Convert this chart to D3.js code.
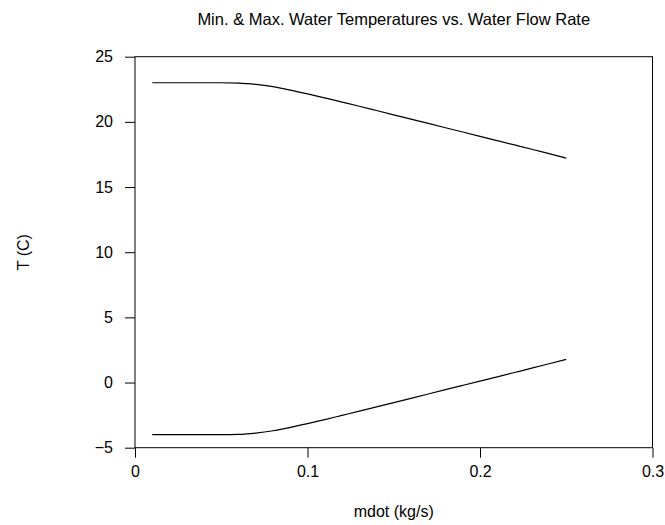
<!DOCTYPE html>
<html>
<head>
<meta charset="utf-8">
<script src="https://cdn.jsdelivr.net/npm/d3@7"></script>
<style>
  body { margin: 0; background: #fff; }
  text { font-family: "Liberation Sans", Arial, sans-serif; fill: #000; }
</style>
</head>
<body>
<div id="chart"></div>
<script>
// flow rate (kg/s)
const mdot = [0.01, 0.02, 0.03, 0.04, 0.05, 0.06, 0.07, 0.08, 0.09, 0.10, 0.11, 0.12, 0.13,
  0.14, 0.15, 0.16, 0.17, 0.18, 0.19, 0.20, 0.21, 0.22, 0.23, 0.24, 0.25];
// max water temperature (C)
const tMax = [23.0, 23.0, 23.0, 23.0, 23.0, 22.98, 22.88, 22.7, 22.44, 22.15, 21.84, 21.52, 21.2,
  20.87, 20.54, 20.21, 19.88, 19.55, 19.22, 18.89, 18.56, 18.23, 17.9, 17.56, 17.22];
// min water temperature (C)
const tMin = [-4.0, -4.0, -4.0, -4.0, -4.0, -3.98, -3.88, -3.7, -3.44, -3.15, -2.84, -2.52, -2.2,
  -1.87, -1.54, -1.21, -0.88, -0.55, -0.22, 0.11, 0.44, 0.77, 1.1, 1.44, 1.78];

const xTicks = [0, 0.1, 0.2, 0.3];
const yTicks = [-5, 0, 5, 10, 15, 20, 25];

const width = 665, height = 525;
const plot = {left: 135, right: 652.5, top: 56.7, bottom: 447.7};

const svg = d3.select("#chart")
  .append("svg")
    .attr("width", width)
    .attr("height", height);

const x = d3.scaleLinear().domain([0, 0.3]).range([plot.left, plot.right]);
const y = d3.scaleLinear().domain([-5, 25]).range([plot.bottom, plot.top]);

// axes
svg.append("g")
    .attr("transform", `translate(0,${plot.bottom})`)
    .call(d3.axisBottom(x).tickValues(xTicks).tickFormat(d => d === 0 ? "0" : d3.format(".1f")(d))
      .tickSize(10).tickPadding(8))
    .call(g => g.select(".domain").remove())
    .call(g => g.selectAll("text").style("font-size", "16px").attr("font-family", null));

svg.append("g")
    .attr("transform", `translate(${plot.left},0)`)
    .call(d3.axisLeft(y).tickValues(yTicks).tickSize(10).tickPadding(12))
    .call(g => g.select(".domain").remove())
    .call(g => g.selectAll("text").style("font-size", "16px").attr("font-family", null));

svg.selectAll(".tick line").attr("stroke", "#000");

// frame
svg.append("rect")
    .attr("x", plot.left)
    .attr("y", plot.top)
    .attr("width", plot.right - plot.left)
    .attr("height", plot.bottom - plot.top)
    .attr("fill", "none")
    .attr("stroke", "#000");

// curves
const line = d3.line()
    .x(d => x(d[0]))
    .y(d => y(d[1]))
    .curve(d3.curveMonotoneX);

[tMax, tMin].forEach(series => {
  svg.append("path")
      .datum(mdot.map((m, i) => [m, series[i]]))
      .attr("d", line)
      .attr("fill", "none")
      .attr("stroke", "#000")
      .attr("stroke-width", 1.2);
});

// labels
svg.append("text")
    .attr("x", (plot.left + plot.right) / 2)
    .attr("y", 25)
    .attr("text-anchor", "middle")
    .style("font-size", "16.5px")
    .text("Min. & Max. Water Temperatures vs. Water Flow Rate");

svg.append("text")
    .attr("x", (plot.left + plot.right) / 2)
    .attr("y", 517)
    .attr("text-anchor", "middle")
    .style("font-size", "16px")
    .text("mdot (kg/s)");

svg.append("text")
    .attr("transform", `translate(29,${(plot.top + plot.bottom) / 2}) rotate(-90)`)
    .attr("text-anchor", "middle")
    .style("font-size", "16px")
    .text("T (C)");
</script>
</body>
</html>
